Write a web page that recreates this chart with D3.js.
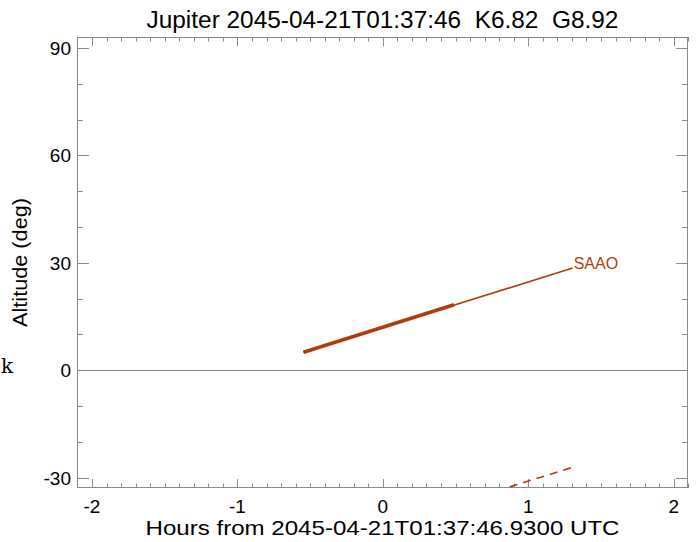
<!DOCTYPE html>
<html>
<head>
<meta charset="utf-8">
<script src="https://cdn.jsdelivr.net/npm/d3@7"></script>
<style>
  body { margin: 0; background: #fff; }
  text { font-family: "Liberation Sans", Arial, sans-serif; }
</style>
</head>
<body>
<div id="chart"></div>
<script>
// values
const titleText = "Jupiter 2045-04-21T01:37:46  K6.82  G8.92";
const xLabel = "Hours from 2045-04-21T01:37:46.9300 UTC";
const yLabel = "Altitude (deg)";
const siteName = "SAAO";

const xMajor = [-2, -1, 0, 1, 2];
const yMajor = [-30, 0, 30, 60, 90];

// SAAO altitude track (thin = whole window, thick = observable part)
const saaoHours = [-0.546, 1.305];
const saaoAlt = [5.03, 28.52];
const saaoThickHours = [-0.546, 0.489];
const saaoThickAlt = [5.03, 18.26];

// dashed track below the horizon
const dashHours = [0.78, 1.305];
const dashAlt = [-33.75, -27.12];

const width = 697, height = 542;
const margin = { top: 37, right: 9, bottom: 54, left: 77 };
const lineColor = "#b03c0c";
const axisColor = "#8a8a8a";

const svg = d3.select("#chart").append("svg")
  .attr("width", width)
  .attr("height", height);

const x = d3.scaleLinear().domain([-2.103, 2.098]).range([margin.left, width - margin.right]);
const y = d3.scaleLinear().domain([-32.9, 93.07]).range([height - margin.bottom, margin.top]);

const x0 = margin.left, x1 = width - margin.right;
const y0 = height - margin.bottom, y1 = margin.top;

svg.append("clipPath").attr("id", "plot-clip")
  .append("rect")
  .attr("x", x0).attr("y", y1)
  .attr("width", x1 - x0).attr("height", y0 - y1);

// minor ticks
const xMinor = d3.range(-21, 22).map(d => d / 10);
const yMinor = d3.range(-30, 91, 10);

// frame
svg.append("rect")
  .attr("x", x0 + 0.5).attr("y", y1 + 0.5)
  .attr("width", x1 - x0 - 1).attr("height", y0 - y1 - 1)
  .attr("fill", "none")
  .attr("stroke", axisColor)
  .attr("stroke-width", 1);

const ticks = svg.append("g").attr("stroke", axisColor).attr("stroke-width", 1);

function drawXTicks(vals, len) {
  vals.forEach(v => {
    const px = Math.round(x(v)) + 0.5;
    ticks.append("line").attr("x1", px).attr("x2", px).attr("y1", y0).attr("y2", y0 - len);
    ticks.append("line").attr("x1", px).attr("x2", px).attr("y1", y1).attr("y2", y1 + len);
  });
}
function drawYTicks(vals, len) {
  vals.forEach(v => {
    const py = Math.round(y(v)) + 0.5;
    ticks.append("line").attr("x1", x0).attr("x2", x0 + len).attr("y1", py).attr("y2", py);
    ticks.append("line").attr("x1", x1).attr("x2", x1 - len).attr("y1", py).attr("y2", py);
  });
}
drawXTicks(xMinor.filter(v => !xMajor.includes(v)), 4.5);
drawXTicks(xMajor, 9);
drawYTicks(yMinor.filter(v => !yMajor.includes(v)), 6);
drawYTicks(yMajor, 12);

// tick labels
svg.append("g").selectAll("text")
  .data(xMajor)
  .join("text")
  .attr("x", d => x(d))
  .attr("y", y0 + 25)
  .attr("text-anchor", "middle")
  .attr("font-size", 19)
  .text(d => d);

svg.append("g").selectAll("text")
  .data(yMajor)
  .join("text")
  .attr("x", x0 - 6)
  .attr("y", d => y(d) + 7)
  .attr("text-anchor", "end")
  .attr("font-size", 19)
  .text(d => d);

// horizon line
svg.append("line")
  .attr("x1", x0).attr("x2", x1)
  .attr("y1", Math.round(y(0)) + 0.5).attr("y2", Math.round(y(0)) + 0.5)
  .attr("stroke", axisColor)
  .attr("stroke-width", 1);

// tracks
const plot = svg.append("g").attr("clip-path", "url(#plot-clip)");
const line = d3.line().x(d => x(d[0])).y(d => y(d[1]));

plot.append("path")
  .attr("d", line(d3.zip(saaoHours, saaoAlt)))
  .attr("fill", "none")
  .attr("stroke", lineColor)
  .attr("stroke-width", 1.6);

plot.append("path")
  .attr("d", line(d3.zip(saaoThickHours, saaoThickAlt)))
  .attr("fill", "none")
  .attr("stroke", lineColor)
  .attr("stroke-width", 3.6);

plot.append("path")
  .attr("d", line(d3.zip(dashHours, dashAlt)))
  .attr("fill", "none")
  .attr("stroke", lineColor)
  .attr("stroke-width", 1.6)
  .attr("stroke-dasharray", "8,6");

svg.append("text")
  .attr("x", x(saaoHours[1]) + 1)
  .attr("y", y(saaoAlt[1]) + 1)
  .attr("font-size", 16)
  .attr("fill", lineColor)
  .text(siteName);

// titles
svg.append("text")
  .attr("x", (x0 + x1) / 2)
  .attr("y", 28)
  .attr("text-anchor", "middle")
  .attr("font-size", 24.4)
  .style("white-space", "pre")
  .text(titleText);

svg.append("text")
  .attr("x", (x0 + x1) / 2)
  .attr("y", 535)
  .attr("text-anchor", "middle")
  .attr("font-size", 21)
  .attr("textLength", 474)
  .attr("lengthAdjust", "spacingAndGlyphs")
  .text(xLabel);

svg.append("text")
  .attr("transform", `translate(27, ${(y0 + y1) / 2}) rotate(-90)`)
  .attr("text-anchor", "middle")
  .attr("font-size", 20)
  .attr("textLength", 129)
  .attr("lengthAdjust", "spacingAndGlyphs")
  .text(yLabel);

svg.append("text")
  .attr("x", 1)
  .attr("y", 373)
  .attr("font-size", 20)
  .style("font-family", "'DejaVu Serif', serif")
  .text("k");
</script>
</body>
</html>
